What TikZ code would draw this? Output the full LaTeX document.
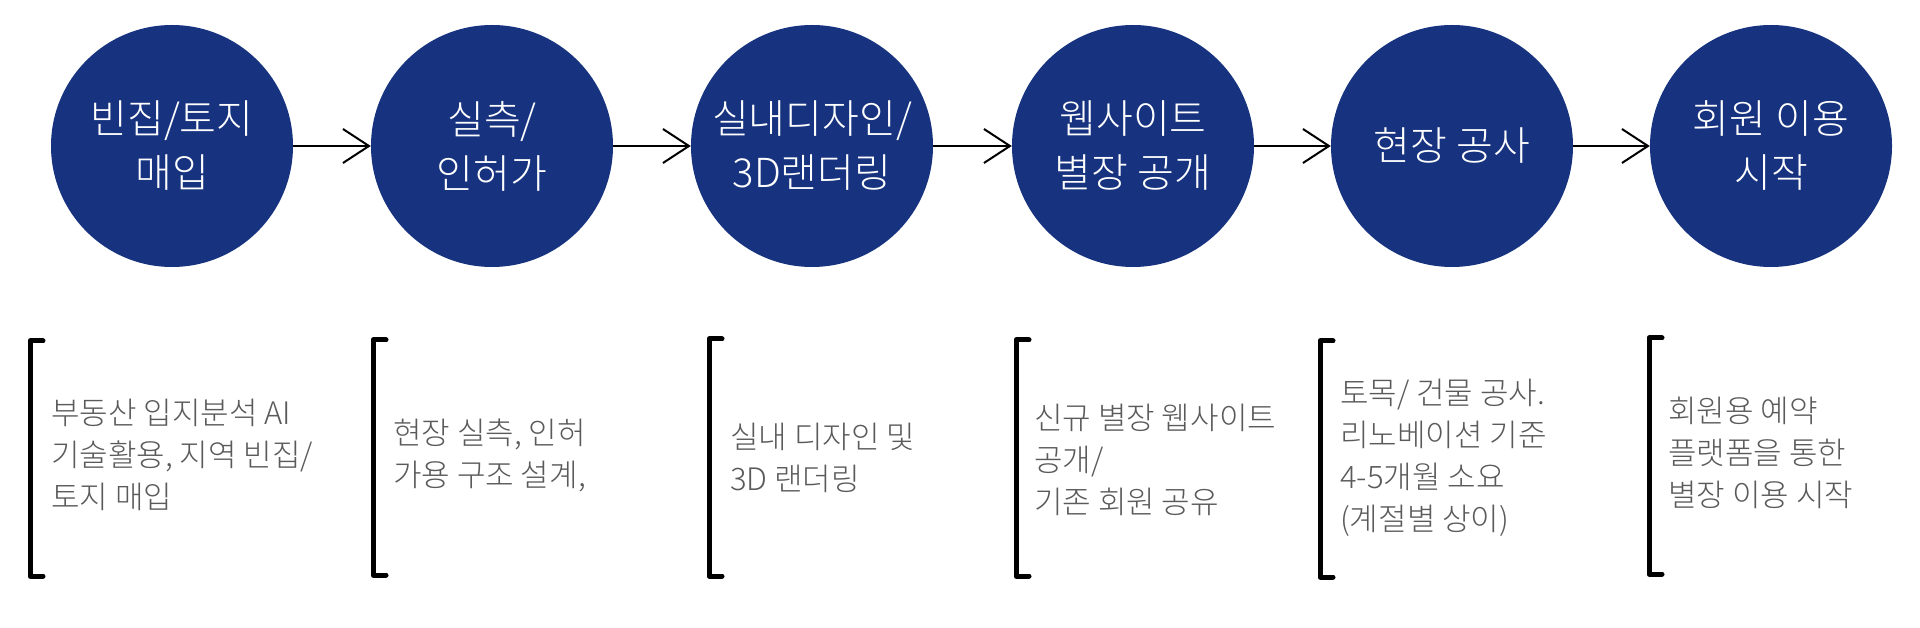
\documentclass[tikz,border=0pt]{standalone}
\usepackage{fontspec}
\setmainfont{Noto Sans CJK KR}[FontFace={l}{n}{Font=* Light}]
\usetikzlibrary{arrows.meta}
\definecolor{navy}{HTML}{17337F}
\definecolor{desc}{HTML}{5A5A5A}
\tikzset{
  stage/.style={circle, fill=navy, draw=none, minimum size=242pt, inner sep=0pt,
    text=white, align=center, font=\fontseries{l}\fontsize{40}{54}\selectfont},
  arr/.style={line width=2pt, -{Straight Barb[length=26pt,width=34pt,line width=2pt]}},
  brk/.style={line width=5pt, line cap=round, line join=round},
  desctext/.style={anchor=west, align=left, text=desc, inner sep=0pt,
    font=\fontseries{l}\fontsize{31}{42}\selectfont}
}
\begin{document}
\begin{tikzpicture}[x=1pt, y=-1pt]
\useasboundingbox (0,0) rectangle (1920,628);
\fill[white] (0,0) rectangle (1920,628);

\node[stage] (c1) at (172,146) {빈집/토지\\매입};
\node[stage] (c2) at (492,146) {실측/\\인허가};
\node[stage] (c3) at (812,146) {실내디자인/\\3D랜더링};
\node[stage] (c4) at (1133,146) {웹사이트\\별장 공개};
\node[stage] (c5) at (1452,146) {현장 공사};
\node[stage] (c6) at (1771,146) {회원 이용\\시작};

\draw[arr] (c1) -- (c2);
\draw[arr] (c2) -- (c3);
\draw[arr] (c3) -- (c4);
\draw[arr] (c4) -- (c5);
\draw[arr] (c5) -- (c6);

% brackets
\foreach \bx/\bt/\bb in {30/341/576, 373/340/575, 709/339/576, 1016/340/576, 1320/341/577, 1649/338/574}{
  \draw[brk] (\bx+13,\bt) -- (\bx,\bt) -- (\bx,\bb) -- (\bx+13,\bb);
}

\node[desctext] (t1) at (51,455) {부동산 입지분석 AI\\기술활용, 지역 빈집/\\토지 매입};
\node[desctext] (t2) at (393,455) {현장 실측, 인허\\가용 구조 설계,};
\node[desctext] (t3) at (730,458) {실내 디자인 및\\3D 랜더링};
\node[desctext] (t4) at (1034,460) {신규 별장 웹사이트\\공개/\\기존 회원 공유};
\node[desctext] (t5) at (1340,458) {토목/ 건물 공사.\\리노베이션 기준\\4-5개월 소요\\(계절별 상이)};
\node[desctext] (t6) at (1668,453) {회원용 예약\\플랫폼을 통한\\별장 이용 시작};
\end{tikzpicture}
\end{document}
